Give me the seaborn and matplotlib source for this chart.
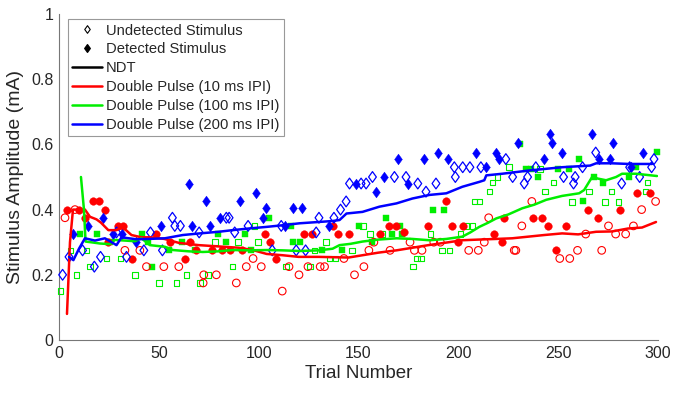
import numpy as np
import pandas as pd
import matplotlib
matplotlib.use("Agg")
import matplotlib.pyplot as plt
from matplotlib.lines import Line2D
from matplotlib.markers import MarkerStyle
from matplotlib.path import Path
import seaborn as sns

# ---------------- data ----------------
# 200 ms IPI (blue diamonds)
blue_det_t = [7, 14.7, 21.8, 27.2, 31.8, 38.8, 51, 65, 66.8, 73.8, 75.8, 80.8, 90.7, 98.8, 102.2,
              103.8, 113, 117, 121.8, 135, 148.8, 158.8, 163, 170, 175, 183, 189.7, 194.7, 208.8,
              213.8, 218.8, 220.6, 229.8, 242.8, 246, 246.7, 251.8, 266.8, 270.5, 275.8, 277.7,
              286.5, 292.5]
blue_det_v = [.325, .35, .375, .325, .325, .3, .35, .48, .35, .425, .35, .375, .425, .45, .375,
              .405, .35, .405, .405, .35, .48, .455, .5, .555, .48, .555, .575, .555, .575,
              .53, .575, .555, .603, .555, .632, .603, .575, .632, .555, .555, .603,
              .53, .575]
blue_und_t = [1.8, 5, 11.8, 17.7, 20.8, 28.8, 33.8, 42.5, 45.8, 51.8, 56.8, 58, 60.8, 70.2, 83.8,
              85.2, 88, 94.7, 106.8, 111.3, 118.8, 123.5, 128.8, 130.2, 137.7, 141, 143.8, 145.5,
              151.3, 153.8, 157, 168, 173.8, 179.7, 183.8, 188.8, 198, 198.5, 202.2, 205.8, 211.3,
              223.8, 227.2, 233, 234.7, 238.8, 252.7, 257.7, 258.5, 262.2, 268.8, 281.8, 285.8,
              290.8, 296.8, 298]
blue_und_v = [.2, .255, .275, .225, .255, .33, .255, .275, .33, .275, .375, .35, .35, .33, .375,
              .375, .33, .35, .275, .35, .275, .275, .33, .375, .375, .4, .425, .48,
              .48, .48, .5, .5, .5, .48, .455, .48, .53, .5, .53, .53, .53,
              .555, .5, .48, .5, .53, .5, .48, .5, .53, .575, .48, .53,
              .5, .53, .555]
# 10 ms IPI (red circles)
red_det_t = [3.8, 10, 13, 17.2, 20, 23, 24.7, 29.7, 32.2, 36.8, 48.8, 55.8, 63, 65.8, 68.8, 76.7,
             81.8, 85.5, 91.8, 103, 105.8, 108.8, 122.5, 126.8, 137.2, 139.7, 145, 161, 165.2,
             168.8, 173, 184.8, 193.8, 196.8, 199.7, 202.2, 217.7, 221.8, 223, 237.5, 241.7,
             244.8, 248.8, 253.8, 264.7, 269.7, 280.8, 289.7, 296]
red_det_v = [.4, .4, .375, .425, .425, .4, .3, .35, .35, .25, .325, .3, .25, .3, .275, .275,
             .275, .275, .275, .325, .3, .25, .325, .325, .35, .325, .325, .325, .35,
             .35, .33, .35, .425, .35, .3, .35, .325, .3, .375, .375, .375,
             .35, .275, .35, .4, .375, .4, .45, .45]
red_und_t = [3, 8, 33, 40.5, 43.8, 52.5, 60, 72.2, 72.5, 78.8, 88.8, 93.8, 97.2, 101.3, 111.8,
             115.2, 120.2, 124.7, 130.8, 133, 142.7, 148, 152.7, 155.2, 157.7, 165.8, 175.8, 178,
             181.8, 187.7, 191, 205.2, 210, 213, 215.2, 228, 228.8, 231.8, 236.8, 250.8, 255.8,
             259.7, 263.8, 271.8, 275.2, 278.8, 283.8, 287.7, 291.8, 298.8]
red_und_v = [.375, .4, .275, .275, .225, .225, .225, .175, .2, .2, .175, .225, .25, .225, .15,
             .225, .2, .225, .225, .225, .25, .2, .225, .275, .3, .275, .3, .275,
             .275, .3, .3, .275, .275, .3, .375, .275, .275, .35, .425, .25, .25,
             .275, .325, .275, .35, .325, .325, .35, .4, .425]
# 100 ms IPI (green squares)
green_det_t = [10.5, 18.8, 25.5, 41.8, 44.7, 46.8, 55.2, 61.8, 68, 79.7, 83.8, 93, 96.3, 105.2,
               116.3, 117.2, 120.5, 131.8, 141.8, 150, 156.8, 163.8, 166.8, 171, 171.8, 187.2,
               193, 230.8, 233.8, 236.3, 239.7, 249.7, 255.2, 260.5, 262.5, 268, 272.5, 285.5,
               288.8, 299.7]
green_det_v = [.325, .325, .3, .325, .3, .225, .275, .3, .275, .325, .3, .325, .275, .375,
               .35, .3, .3, .275, .275, .35, .3, .375, .325, .35, .325, .4,
               .4, .6, .525, .525, .5, .525, .525, .555, .425, .5, .483, .5,
               .53, .576]
green_und_t = [0.8, 5.8, 8.8, 13.8, 15.5, 23.8, 30.8, 38, 50.2, 58.8, 63.8, 70.5, 74.7, 78, 86.8,
               89.7, 98, 99.7, 113.8, 125.8, 128, 133.8, 135.5, 138.5, 146.8, 152.2, 155.8, 161.8,
               177.2, 179.2, 181.3, 186, 191.7, 195.5, 201, 203.8, 207.2, 208, 210.5, 215.5, 217.2,
               219.7, 225.5, 240.8, 243.3, 247.7, 256.8, 265.5, 273.5, 276.8, 280.2, 293.8, 294.7]
green_und_v = [.15, .275, .2, .275, .225, .25, .25, .2, .175, .175, .2, .175, .2, .3, .225,
               .3, .35, .3, .225, .225, .275, .3, .25, .25, .275, .35, .325, .325,
               .225, .25, .25, .325, .275, .275, .325, .35, .35, .425, .425, .455, .483,
               .5, .53, .525, .455, .483, .424, .455, .424, .455, .424, .455, .483]

# threshold-tracking lines
red_line_t = [4, 5.5, 7, 10, 13, 15.5, 18.8, 21, 24.7, 28.8, 31.3, 33, 36.3, 41.3, 46, 52.8, 60,
              70, 80, 90, 97, 104, 112, 120, 130, 137, 145, 152, 160, 169, 177, 185, 193, 202,
              210, 219, 227, 235, 243, 252, 260, 269, 277, 285, 292, 299]
red_line_v = [.08, .3, .4, .4, .4, .378, .37, .36, .337, .337, .345, .34, .322, .315, .315, .31,
              .298, .291, .287, .283, .276, .264, .26, .255, .255, .254, .253, .26, .268, .275,
              .283, .291, .298, .306, .308, .31, .312, .317, .322, .327, .324, .332, .333,
              .342, .345, .362]
green_line_t = [11, 12.5, 13.3, 17, 20.5, 25.5, 28, 33, 38, 41.3, 45.5, 53, 57, 65, 72, 80, 87,
                95, 104, 112, 120.5, 130, 137, 140.5, 146, 152, 160, 169, 177, 185.5, 194, 202,
                206, 210.5, 215, 219, 225, 232, 238, 244, 252, 260.5, 263, 265, 267, 270, 274,
                279, 282, 289, 299.5]
green_line_v = [.5, .4, .302, .299, .296, .294, .307, .305, .303, .312, .291, .286, .276, .272,
                .27, .272, .276, .275, .276, .275, .273, .275, .28, .291, .295, .302, .308, .312,
                .31, .306, .31, .317, .33, .347, .36, .373, .385, .404, .415, .43, .442, .45,
                .46, .48, .5, .495, .49, .5, .51, .51, .503]
blue_line_t = [5, 7.2, 10, 13, 18, 23, 28.8, 31.3, 35, 38.8, 45, 53, 62, 70.5, 80, 87, 95, 104,
               112, 120.5, 130, 137, 140.5, 144, 152, 160.5, 169, 177, 185.5, 194, 202, 210.5,
               213, 214, 222, 235.5, 252, 266, 269, 277, 285.5, 297]
blue_line_v = [.255, .245, .28, .312, .305, .312, .291, .315, .312, .309, .31, .312, .322, .327,
               .332, .337, .342, .347, .352, .358, .362, .365, .368, .388, .393, .409, .419,
               .434, .445, .45, .47, .485, .49, .505, .51, .52, .53, .535, .542, .542, .54, .54]

legend_labels = ["Undetected Stimulus", "Detected Stimulus", "NDT",
                 "Double Pulse (10 ms IPI)", "Double Pulse (100 ms IPI)",
                 "Double Pulse (200 ms IPI)"]
x_ticks = [0, 50, 100, 150, 200, 250, 300]
y_ticks = [0, 0.2, 0.4, 0.6, 0.8, 1]
y_tick_labels = ["0", "0.2", "0.4", "0.6", "0.8", "1"]

# ---------------- styling ----------------
sns.set_style("white")
plt.rcParams["font.family"] = ["Liberation Sans", "DejaVu Sans"]
plt.rcParams["xtick.direction"] = "in"
plt.rcParams["ytick.direction"] = "in"

RED, GREEN, BLUE = "#ff0000", "#00ee00", "#0000ff"
AX_GRAY = "#777777"
TXT = "#262626"

diamond = MarkerStyle(Path([(0, 1), (0.72, 0), (0, -1), (-0.72, 0), (0, 1)],
                           [Path.MOVETO, Path.LINETO, Path.LINETO, Path.LINETO, Path.CLOSEPOLY]))

fig = plt.figure(figsize=(6.73, 3.98), dpi=100)
ax = fig.add_axes([59 / 673, 1 - 340 / 398, 599 / 673, 326 / 398])


def scat(t, v, color, marker, size, filled, lw=0.8):
    df = pd.DataFrame({"t": t, "v": v})
    if filled:
        sns.scatterplot(data=df, x="t", y="v", ax=ax, marker=marker, s=size, color=color,
                        edgecolor=color, linewidth=0.3, clip_on=False, zorder=3, legend=False)
    else:
        sns.scatterplot(data=df, x="t", y="v", ax=ax, marker=marker, s=size, color=color,
                        facecolor="none", edgecolor=color, linewidth=lw, clip_on=False,
                        zorder=3, legend=False)


scat(green_und_t, green_und_v, GREEN, "s", 16, False, 0.8)
scat(green_det_t, green_det_v, GREEN, "s", 16, True)
scat(red_und_t, red_und_v, RED, "o", 30, False, 0.8)
scat(red_det_t, red_det_v, RED, "o", 30, True)
scat(blue_und_t, blue_und_v, BLUE, diamond, 60, False, 0.9)
scat(blue_det_t, blue_det_v, BLUE, diamond, 60, True)

for lt, lv, c in [(red_line_t, red_line_v, RED), (green_line_t, green_line_v, GREEN),
                  (blue_line_t, blue_line_v, BLUE)]:
    sns.lineplot(x=lt, y=lv, ax=ax, color=c, linewidth=1.8, estimator=None, sort=False,
                 zorder=4, legend=False)

ax.set_xlim(0, 300)
ax.set_ylim(0, 1)
ax.set_xticks(x_ticks)
ax.set_xticklabels([str(x) for x in x_ticks])
ax.set_yticks(y_ticks)
ax.set_yticklabels(y_tick_labels)
for s in ["top", "right"]:
    ax.spines[s].set_visible(False)
for s in ["left", "bottom"]:
    ax.spines[s].set_color(AX_GRAY)
    ax.spines[s].set_linewidth(0.8)
ax.tick_params(axis="both", colors=AX_GRAY, labelcolor=TXT, labelsize=11.5, length=4,
               width=0.8, pad=4)
ax.set_xlabel("Trial Number", fontsize=13.5, color=TXT, labelpad=3)
ax.set_ylabel("Stimulus Amplitude (mA)", fontsize=14, color=TXT, labelpad=5)

handles = [
    Line2D([], [], ls="none", marker=diamond, markersize=5.5, mfc="none", mec="black", mew=0.8),
    Line2D([], [], ls="none", marker=diamond, markersize=5.5, mfc="black", mec="black"),
    Line2D([], [], color="black", lw=1.8),
    Line2D([], [], color=RED, lw=1.8),
    Line2D([], [], color=GREEN, lw=1.8),
    Line2D([], [], color=BLUE, lw=1.8),
]
leg = ax.legend(handles, legend_labels, loc="upper left", bbox_to_anchor=(0.0145, 0.984),
                borderaxespad=0, fontsize=10.6, frameon=True, fancybox=False, framealpha=1,
                edgecolor="#999999", handlelength=2.0, handletextpad=0.3, labelspacing=0.33,
                borderpad=0.3)
leg.get_frame().set_linewidth(0.8)
for txt in leg.get_texts():
    txt.set_color(TXT)

fig.savefig("out.png", dpi=100)
